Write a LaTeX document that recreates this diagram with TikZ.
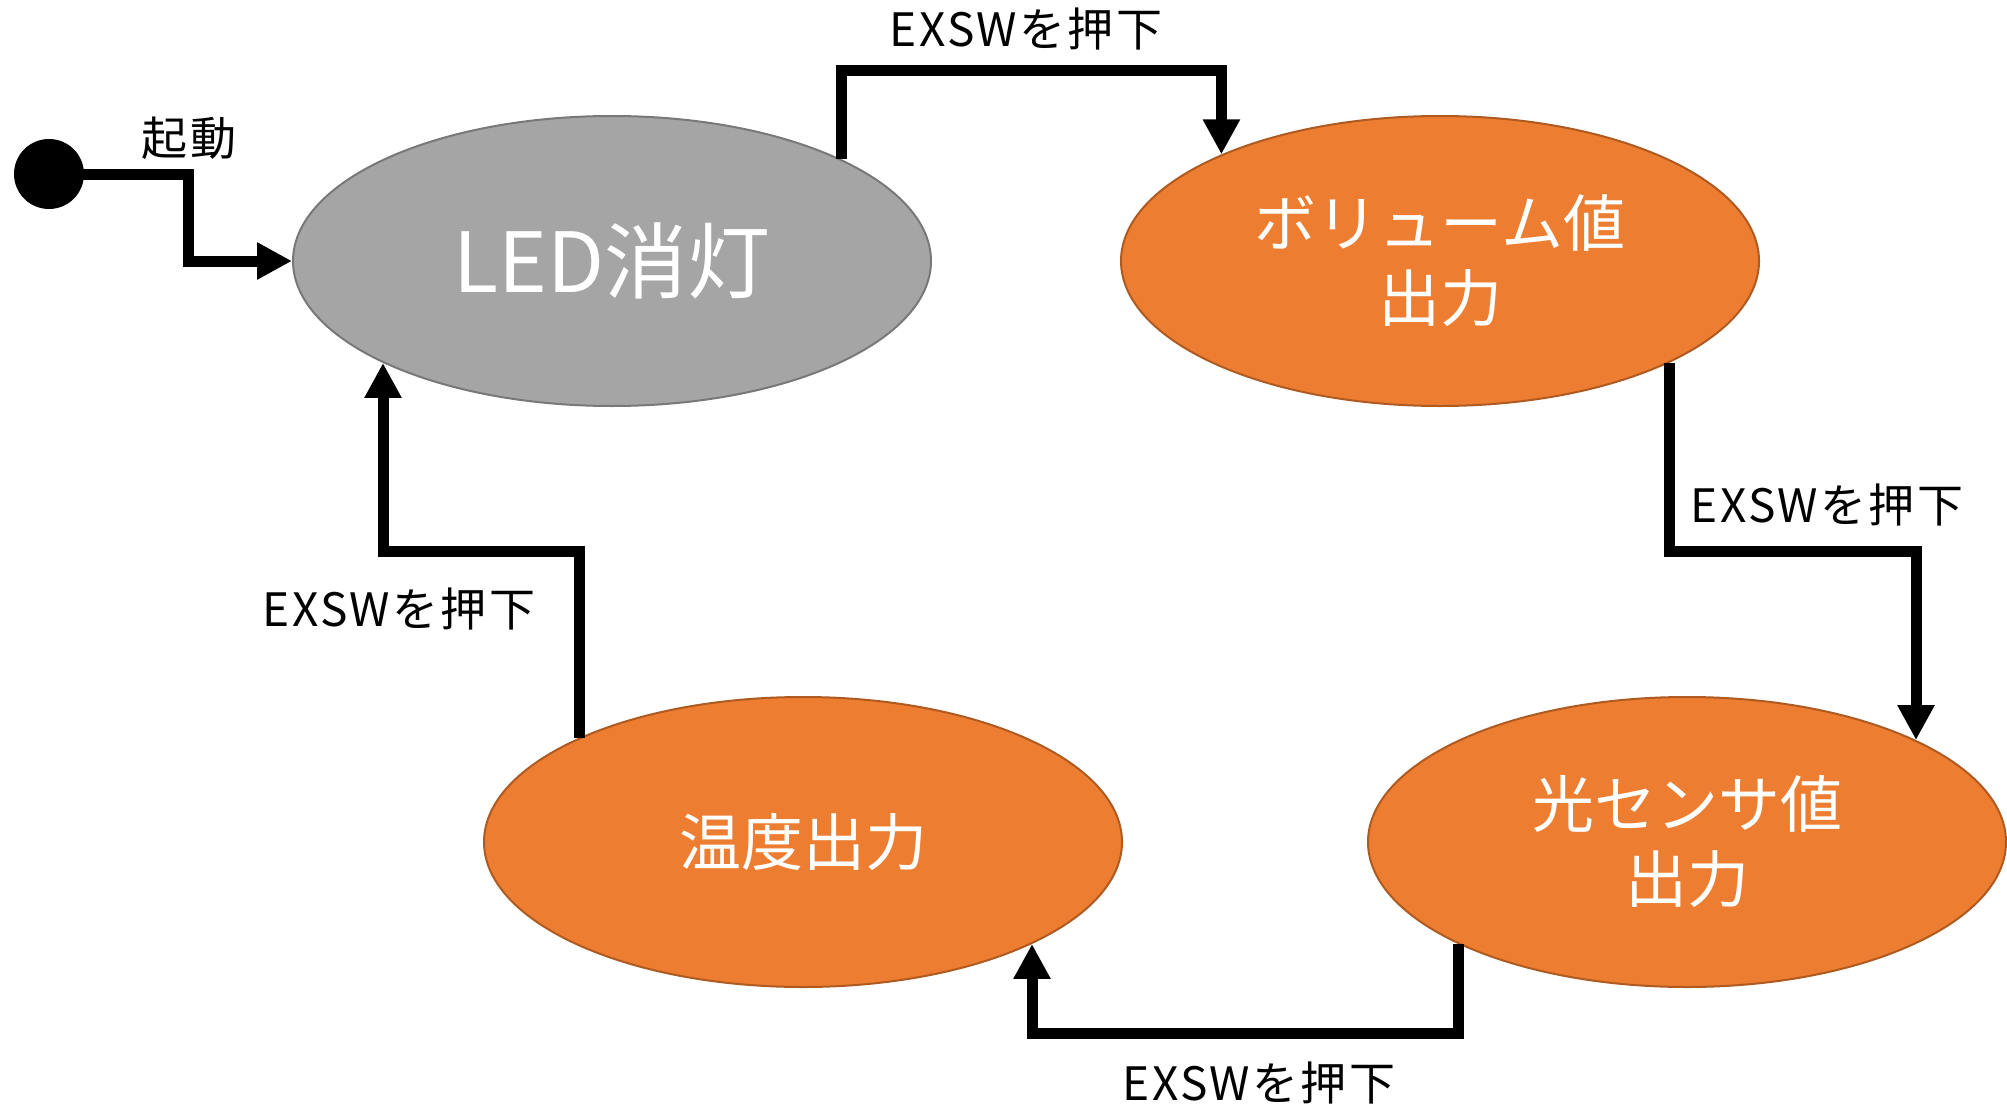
\documentclass[tikz,border=0pt]{standalone}
\usepackage{fontspec}
\setmainfont{Noto Sans CJK JP}
\newfontfamily\lblfont[LetterSpace=5]{Noto Sans CJK JP}
\usetikzlibrary{shapes.geometric,arrows.meta}
\definecolor{orfill}{HTML}{ED7D31}
\definecolor{ordraw}{HTML}{AE5A21}
\definecolor{grfill}{HTML}{A5A5A5}
\definecolor{grdraw}{HTML}{787878}
\tikzset{
  state/.style={ellipse, minimum width=638pt, minimum height=290pt, inner sep=0pt, line width=2pt, text=white, align=center, font=\fontsize{62}{75}\selectfont},
  orstate/.style={state, fill=orfill, draw=ordraw},
  grstate/.style={state, fill=grfill, draw=grdraw, font=\fontsize{83}{100}\selectfont},
  conn/.style={line width=11pt, -{Triangle[width=35pt,length=35pt]}},
  lbl/.style={font=\lblfont\fontsize{46}{55}\selectfont, inner sep=0pt}
}
\begin{document}
\begin{tikzpicture}[x=1pt,y=-1pt]
\useasboundingbox (0,0) rectangle (2007,1113);
\node[circle, fill=black, minimum size=70pt, inner sep=0pt] (init) at (49,174) {};
\node[grstate] (led) at (612,261) {LED消灯};
\node[orstate] (vol) at (1440,261) {ボリューム値\\出力};
\node[orstate] (light) at (1687,842) {光センサ値\\出力};
\node[orstate] (temp) at (803,842) {温度出力};
\coordinate (k0) at (188,217);
\coordinate (ktop) at (0,70.5);
\coordinate (kright) at (0,551.5);
\coordinate (kbot) at (0,1033.5);
\coordinate (kleft) at (0,551);
\draw[conn] (init.center) -| (k0) |- (led.west);
\draw[conn] (led.24.2) -- (led.24.2 |- ktop) -| (vol.154.9);
\draw[conn] (vol.-24.2) -- (vol.-24.2 |- kright) -| (light.24.2);
\draw[conn] (light.204.6) -- (light.204.6 |- kbot) -| (temp.-24.4);
\draw[conn] (temp.155.6) -- (temp.155.6 |- kleft) -| (led.204.6);
\node[lbl] (l0) at (189,138) {起動};
\node[lbl] (l1) at (1026,29) {EXSWを押下};
\node[lbl] (l2) at (1827,505) {EXSWを押下};
\node[lbl] (l3) at (1259,1083) {EXSWを押下};
\node[lbl] (l4) at (399,609) {EXSWを押下};
\end{tikzpicture}
\end{document}
